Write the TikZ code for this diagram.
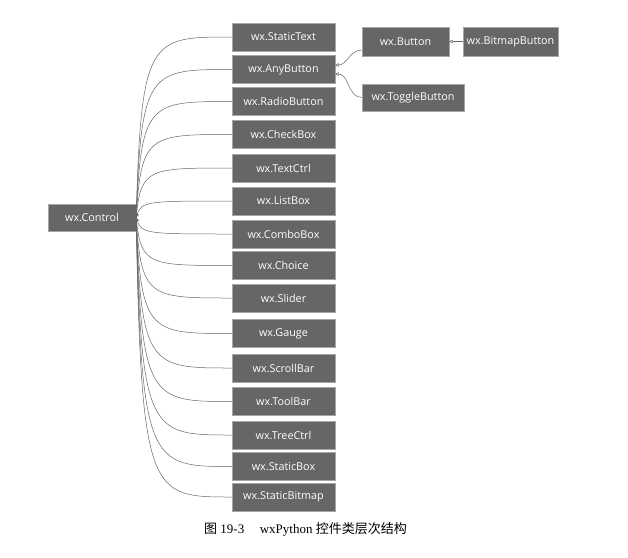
\documentclass[tikz,border=0pt]{standalone}
\usepackage{fontspec}
\setmainfont{Liberation Serif}
\setsansfont{Open Sans}
\newfontfamily\cjk{Noto Sans CJK SC}
\usetikzlibrary{arrows.meta}

\begin{document}
\begin{tikzpicture}[x=1pt, y=-1pt,
    cls/.style={draw=black!35, fill=black!60, text=white, minimum width=103pt, minimum height=28pt, inner sep=2pt, font=\sffamily\fontsize{10.8}{12}\selectfont},
    link_line/.style={draw=black!60, line width=0.5pt, {Triangle[open, length=3.5pt, width=3.5pt]}-},
    fan_line/.style={link_line, to path={.. controls ([xshift=5pt]\tikztostart |- \tikztotarget) and ([xshift=14pt]\tikztostart |- \tikztotarget) .. (\tikztotarget)}}
]
    \useasboundingbox (0, 0) rectangle (628, 557);

    % Base class
    \node (ctrl) [cls, minimum width=88pt, minimum height=27pt] at (92, 217.5) {wx.Control};

    % Derived controls
    \node (statictext) [cls] at (283.5, 37) {wx.StaticText};
    \node (anybutton) [cls] at (283.5, 69.5) {wx.AnyButton};
    \node (radiobutton) [cls] at (283.5, 101.5) {wx.RadioButton};
    \node (checkbox) [cls] at (283.5, 134.5) {wx.CheckBox};
    \node (textctrl) [cls] at (283.5, 168) {wx.TextCtrl};
    \node (listbox) [cls] at (283.5, 201) {wx.ListBox};
    \node (combobox) [cls] at (283.5, 234) {wx.ComboBox};
    \node (choice) [cls] at (283.5, 265.5) {wx.Choice};
    \node (slider) [cls] at (283.5, 298) {wx.Slider};
    \node (gauge) [cls] at (283.5, 333.5) {wx.Gauge};
    \node (scrollbar) [cls] at (283.5, 368) {wx.ScrollBar};
    \node (toolbar) [cls] at (283.5, 401.5) {wx.ToolBar};
    \node (treectrl) [cls] at (283.5, 435) {wx.TreeCtrl};
    \node (staticbox) [cls] at (283.5, 466.5) {wx.StaticBox};
    \node (staticbitmap) [cls] at (283.5, 497) {wx.StaticBitmap};

    % Button branch
    \node (button) [cls, minimum width=87pt, minimum height=29pt] at (405.5, 41.5) {wx.Button};
    \node (bmpbutton) [cls, minimum width=95pt, minimum height=29pt] at (510.5, 41.5) {wx.BitmapButton};
    \node (togglebutton) [cls, minimum width=102pt, minimum height=27pt] at (413, 97.5) {wx.ToggleButton};

    % Inheritance links
    \draw [fan_line] (ctrl.east) to (statictext.west);
    \draw [fan_line] (ctrl.east) to (anybutton.west);
    \draw [fan_line] (ctrl.east) to (radiobutton.west);
    \draw [fan_line] (ctrl.east) to (checkbox.west);
    \draw [fan_line] (ctrl.east) to (textctrl.west);
    \draw [fan_line] (ctrl.east) to (listbox.west);
    \draw [fan_line] (ctrl.east) to (combobox.west);
    \draw [fan_line] (ctrl.east) to (choice.west);
    \draw [fan_line] (ctrl.east) to (slider.west);
    \draw [fan_line] (ctrl.east) to (gauge.west);
    \draw [fan_line] (ctrl.east) to (scrollbar.west);
    \draw [fan_line] (ctrl.east) to (toolbar.west);
    \draw [fan_line] (ctrl.east) to (treectrl.west);
    \draw [fan_line] (ctrl.east) to (staticbox.west);
    \draw [fan_line] (ctrl.east) to (staticbitmap.west);

    \draw [link_line] (button.east) -- (bmpbutton.west);
    \draw [link_line] ([yshift=4.5pt]anybutton.east) to[out=0, in=180] ([yshift=-8.5pt]button.west);
    \draw [link_line] ([yshift=-4.5pt]anybutton.east) to[out=0, in=180] (togglebutton.west);

    % Caption
    \node (caption) at (305.5, 529) {\fontsize{13}{15}\selectfont{\cjk 图} 19-3\hspace{1.2em}wxPython {\cjk 控件类层次结构}};
\end{tikzpicture}
\end{document}
